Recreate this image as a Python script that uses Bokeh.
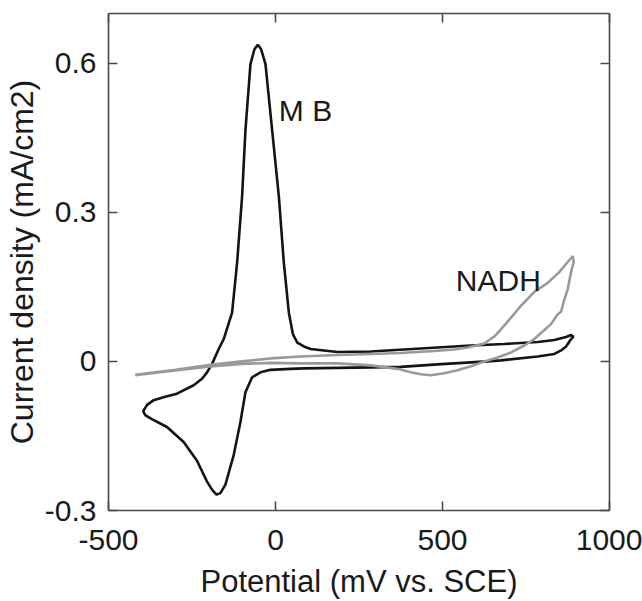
from bokeh.plotting import figure
from bokeh.models import LinearAxis, FixedTicker, Range1d, Label, CustomJSTickFormatter
from bokeh.embed import file_html
from bokeh.resources import INLINE

# ---- data ----
mb_potential = [885, 870, 855, 835, 785, 675, 635, 485, 375, 285, 185, 85, 45, -15, -45,
                -70, -90, -105, -125, -150, -165, -177, -190, -205, -235, -275, -325,
                -370, -390, -396, -385, -365, -330, -295, -245, -220, -205, -190, -170,
                -155, -130, -115, -100, -90, -75, -63, -53, -43, -30, -10, 10, 25, 40,
                52, 65, 85, 105, 185, 285, 385, 485, 585, 685, 785, 835, 870, 885, 892, 885]
mb_current = [0.045, 0.03, 0.022, 0.015, 0.01, 0.002, 0.0, -0.006, -0.011, -0.012, -0.013,
              -0.014, -0.015, -0.017, -0.022, -0.032, -0.062, -0.122, -0.188, -0.248,
              -0.265, -0.268, -0.258, -0.242, -0.2, -0.162, -0.132, -0.116, -0.108, -0.1,
              -0.088, -0.078, -0.071, -0.065, -0.048, -0.035, -0.022, -0.005, 0.025, 0.045,
              0.098, 0.198, 0.332, 0.465, 0.598, 0.628, 0.637, 0.628, 0.598, 0.465, 0.332,
              0.198, 0.098, 0.055, 0.038, 0.03, 0.025, 0.019, 0.02, 0.024, 0.028, 0.032,
              0.035, 0.039, 0.043, 0.049, 0.053, 0.05, 0.045]

nadh_potential = [-420, -300, -195, -100, -15, 75, 185, 285, 375, 475, 535, 575, 625, 655,
                  685, 735, 775, 815, 850, 875, 890, 893, 885, 875, 865, 855, 845, 825, 805,
                  775, 745, 705, 665, 625, 585, 545, 505, 465, 435, 405, 365, 285, 185, 75,
                  -15, -100, -195, -300, -420]
nadh_current = [-0.027, -0.017, -0.007, 0.0, 0.006, 0.01, 0.013, 0.015, 0.017, 0.021, 0.024,
                0.028, 0.036, 0.05, 0.072, 0.112, 0.14, 0.158, 0.18, 0.2, 0.212, 0.2, 0.18,
                0.145, 0.125, 0.1, 0.095, 0.075, 0.063, 0.045, 0.032, 0.018, 0.008, 0.0,
                -0.01, -0.018, -0.024, -0.028, -0.026, -0.022, -0.015, -0.008, -0.004,
                -0.004, -0.003, -0.005, -0.01, -0.018, -0.028]

x_ticks = [-500, 0, 500, 1000]
x_tick_labels = ["-500", "0", "500", "1000"]
y_ticks = [-0.3, 0, 0.3, 0.6]
y_tick_labels = ["-0.3", "0", "0.3", "0.6"]

FONT = "Liberation Sans"
FS = "30px"
AXIS_COLOR = "#4a4a4a"

p = figure(width=642, height=601, x_range=Range1d(-500, 1000), y_range=Range1d(-0.3, 0.7),
           output_backend="svg", toolbar_location=None,
           min_border_left=108, min_border_right=33, min_border_top=13, min_border_bottom=89)
p.outline_line_color = None
p.xgrid.visible = False
p.ygrid.visible = False
p.background_fill_color = "white"
p.border_fill_color = "white"

p.line(mb_potential, mb_current, line_color="#141414", line_width=2.6)
p.line(nadh_potential, nadh_current, line_color="#9a9a9a", line_width=2.6)


def style(ax):
    ax.axis_line_color = AXIS_COLOR
    ax.axis_line_width = 1.6
    ax.major_tick_line_color = AXIS_COLOR
    ax.major_tick_line_width = 1.6
    ax.major_tick_in = 9
    ax.major_tick_out = 0
    ax.minor_tick_line_color = None
    ax.major_label_text_font = FONT
    ax.major_label_text_font_size = FS
    ax.major_label_text_color = "#1a1a1a"
    ax.axis_label_text_font = FONT
    ax.axis_label_text_font_size = FS
    ax.axis_label_text_font_style = "normal"
    ax.axis_label_text_color = "#1a1a1a"


xa = p.xaxis[0]
xa.ticker = FixedTicker(ticks=x_ticks)
xa.major_label_overrides = {t: l for t, l in zip(x_ticks, x_tick_labels)}
xa.axis_label = "Potential (mV vs. SCE)"
style(xa)
xa.axis_label_text_font_size = "31px"
xa.major_label_standoff = 19
xa.axis_label_standoff = 11

ya = p.yaxis[0]
ya.ticker = FixedTicker(ticks=y_ticks)
ya.major_label_overrides = {t: l for t, l in zip(y_ticks, y_tick_labels)}
ya.axis_label = "Current density (mA/cm2)"
style(ya)
ya.axis_label_text_font_size = "32px"
ya.major_label_standoff = 12
ya.axis_label_standoff = 2

blank = CustomJSTickFormatter(code="return ''")
ra = LinearAxis(ticker=FixedTicker(ticks=y_ticks), formatter=blank)
style(ra)
ra.major_label_text_font_size = "0px"
p.add_layout(ra, "right")

ta = LinearAxis(ticker=FixedTicker(ticks=x_ticks), formatter=blank)
style(ta)
ta.major_label_text_font_size = "0px"
p.add_layout(ta, "above")

p.add_layout(Label(x=10, y=0.505, text="M B", text_font=FONT, text_font_size=FS,
                   text_color="#1a1a1a", text_baseline="alphabetic"))
p.add_layout(Label(x=540, y=0.162, text="NADH", text_font=FONT, text_font_size=FS,
                   text_color="#1a1a1a", text_baseline="alphabetic"))

open("out.html", "w").write(file_html(p, INLINE))
